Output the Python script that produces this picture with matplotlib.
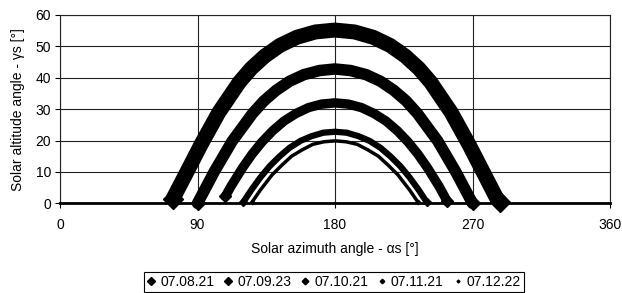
import matplotlib
matplotlib.use("Agg")
import matplotlib.pyplot as plt
from matplotlib.lines import Line2D

plt.rcParams['font.family'] = ['Liberation Sans', 'DejaVu Sans']

# sun paths: azimuth [deg] and altitude [deg]
dates = ["07.08.21", "07.09.23", "07.10.21", "07.11.21", "07.12.22"]

az_aug = [74.0, 81.7, 92.5, 104.0, 117.4, 125.2, 134.0, 143.9, 155.0, 167.2, 180.0,
          192.8, 205.0, 216.1, 226.0, 234.8, 242.6, 256.0, 267.5, 278.3, 285.5, 288.0]
alt_aug = [1.5, 8.7, 18.9, 29.0, 38.6, 43.0, 46.9, 50.3, 52.9, 54.6, 55.2,
           54.6, 52.9, 50.3, 46.9, 43.0, 38.6, 29.0, 18.9, 8.7, 1.9, 0.5]

az_sep = [90.0, 101.0, 112.7, 126.0, 133.4, 141.5, 150.3, 159.7, 169.8, 180.0,
          190.2, 200.3, 209.7, 218.5, 226.6, 234.0, 247.3, 259.0, 270.0]
alt_sep = [0.0, 10.1, 19.8, 28.6, 32.6, 36.0, 38.9, 41.0, 42.3, 42.8,
           42.3, 41.0, 38.9, 36.0, 32.6, 28.6, 19.8, 10.1, 0.0]

az_oct = [108.2, 111.9, 119.6, 125.8, 132.3, 139.2, 146.6, 154.4, 162.7, 171.2, 180.0,
          188.8, 197.3, 205.6, 213.4, 220.8, 227.7, 234.2, 240.4, 248.1, 253.5]
alt_oct = [2.2, 5.4, 11.4, 15.7, 19.6, 23.1, 26.2, 28.6, 30.5, 31.6, 32.0,
           31.6, 30.5, 28.6, 26.2, 23.1, 19.6, 15.7, 11.4, 5.4, 0.6]

az_nov = [120.0, 125.3, 131.1, 137.2, 143.6, 150.3, 157.4, 164.7, 172.4, 180.0,
          187.6, 195.3, 202.6, 209.7, 216.4, 222.8, 228.9, 234.7, 240.0]
alt_nov = [0.4, 4.3, 8.2, 11.8, 14.9, 17.7, 19.9, 21.4, 22.5, 22.8,
           22.5, 21.4, 19.9, 17.7, 14.9, 11.8, 8.2, 4.3, 0.4]

az_dec = [125.9, 131.1, 138.9, 145.1, 151.6, 158.4, 165.5, 172.7, 180.0,
          187.3, 194.5, 201.6, 208.4, 214.9, 221.1, 228.9, 234.1]
alt_dec = [0.5, 4.2, 9.1, 12.1, 15.0, 17.0, 18.8, 19.6, 19.9,
           19.6, 18.8, 17.0, 15.0, 12.1, 9.1, 4.2, 0.5]

series = [(az_aug, alt_aug), (az_sep, alt_sep), (az_oct, alt_oct),
          (az_nov, alt_nov), (az_dec, alt_dec)]
widths = [10.8, 8.3, 6.8, 4.5, 2.5]
legend_sizes = [4.2, 4.2, 3.4, 2.3, 1.5]

xticks = [0, 90, 180, 270, 360]
yticks = [0, 10, 20, 30, 40, 50, 60]

fig = plt.figure(figsize=(6.22, 2.93), dpi=100)
ax = fig.add_axes([60 / 622, 1 - 203.3 / 293, 550 / 622, 188.3 / 293])

for (az, alt), lw in zip(series, widths):
    ax.plot(az, alt, color='black', linewidth=lw, solid_capstyle='round',
            solid_joinstyle='round', marker='D', markevery=[0, -1],
            markersize=lw * 0.9, zorder=3, clip_on=False)

ax.set_xlim(0, 360)
ax.set_ylim(0, 60)
ax.set_xticks(xticks)
ax.set_yticks(yticks)
ax.grid(True, color='#222222', linewidth=0.8, zorder=0)
ax.set_axisbelow(True)

for side in ['top', 'left', 'right']:
    ax.spines[side].set_linewidth(0.8)
    ax.spines[side].set_color('#222222')
ax.spines['bottom'].set_linewidth(2.0)
ax.spines['bottom'].set_zorder(2.5)

ax.tick_params(axis='both', direction='out', length=3.5, width=0.8, labelsize=10)
ax.tick_params(axis='x', pad=7)
ax.tick_params(axis='y', pad=3)

ax.set_xlabel("Solar azimuth angle - αs [°]", fontsize=10)
ax.set_ylabel("Solar altitude angle - γs [°]", fontsize=10)
ax.xaxis.label.set_va('center')
ax.yaxis.label.set_va('center')
ax.xaxis.set_label_coords(0.5, -(249 - 203.3) / 188.3)
ax.yaxis.set_label_coords((18 - 60) / 550, 0.5)

handles = [Line2D([], [], linestyle='none', marker='D', color='black',
                  markersize=s) for s in legend_sizes]
leg = fig.legend(handles, dates, loc='upper center',
                 bbox_to_anchor=(334 / 622, 1 - 271.5 / 293), ncol=5,
                 fontsize=10, frameon=True, fancybox=False, framealpha=1,
                 edgecolor='black', handlelength=0.6, handletextpad=0.35,
                 columnspacing=0.7, borderpad=0.25, borderaxespad=0)
leg.get_frame().set_linewidth(0.8)

fig.savefig("out.png", dpi=100)
